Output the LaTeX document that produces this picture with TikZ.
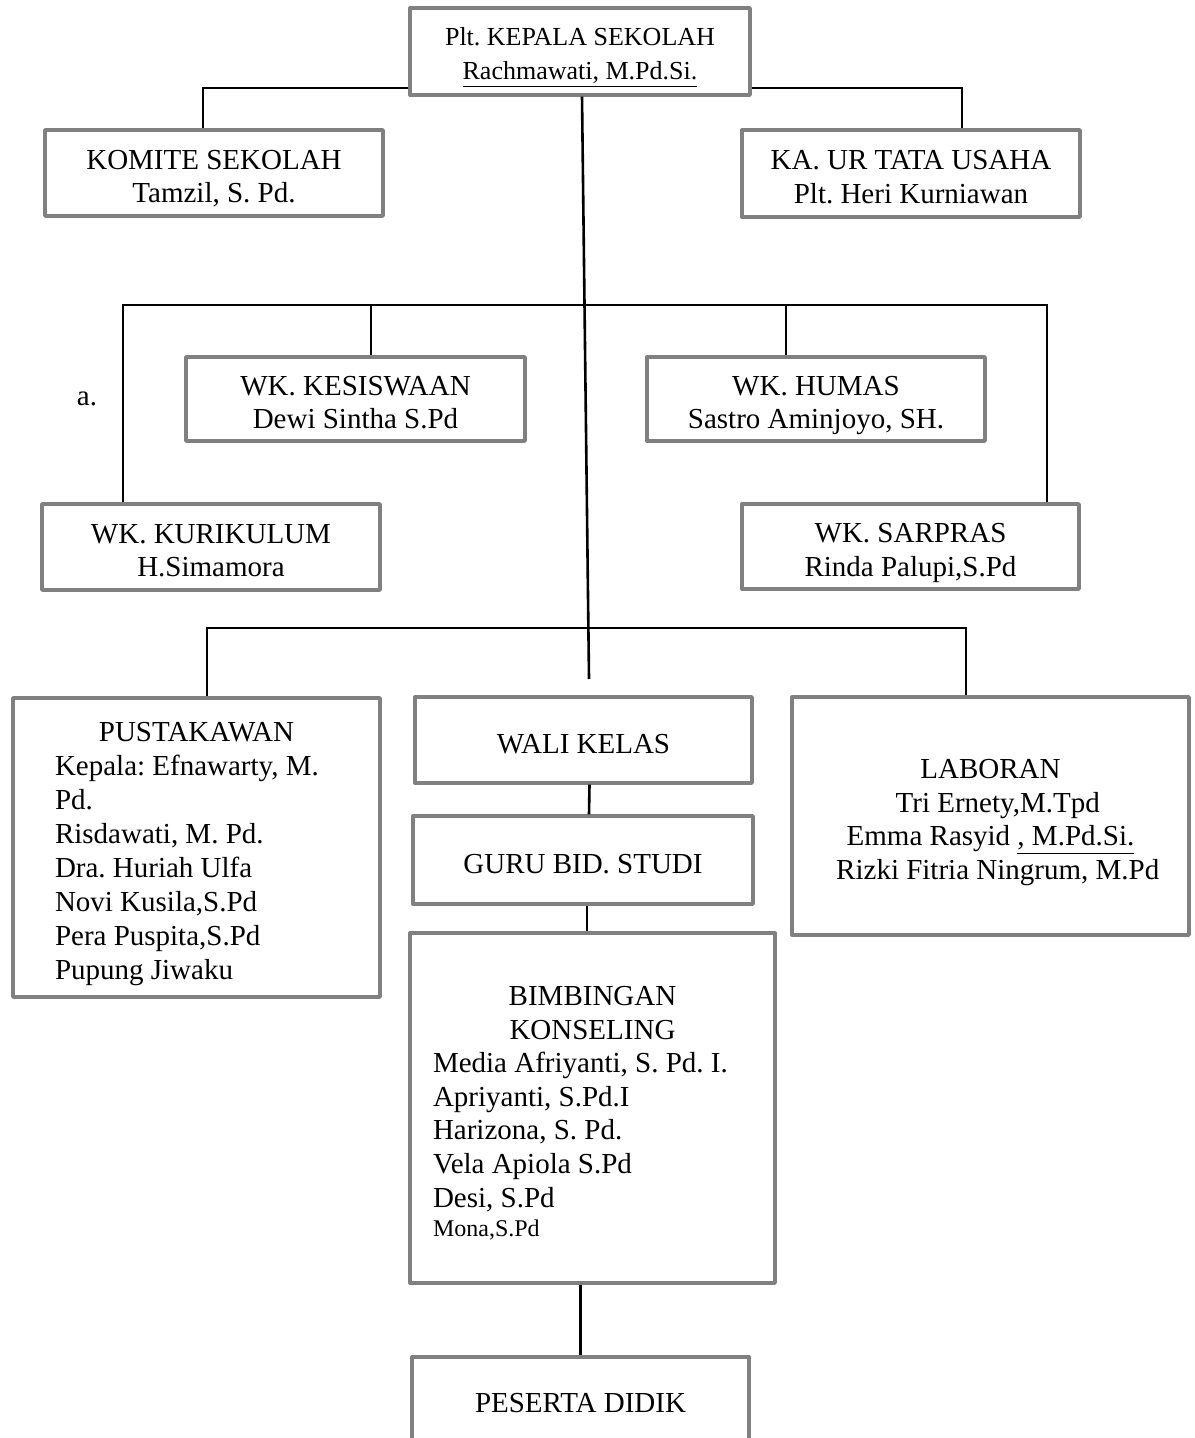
\documentclass[tikz,border=0pt]{standalone}
\usepackage{fontspec}
\setmainfont{Liberation Serif}
\usepackage{xcolor}
\definecolor{boxgray}{RGB}{128,128,128}
\frenchspacing

\begin{document}
\begin{tikzpicture}[x=0.5pt,y=-0.5pt,
box/.style={draw=boxgray,line width=1.7pt,fill=white,align=flush center,text width=150pt,inner sep=0pt,line join=round,font=\fontsize{14.5}{16.8}\selectfont,execute at begin node={\rule{0pt}{#1}},execute at end node={\rule[-3.5pt]{0pt}{3.5pt}}},
box/.default=16.5pt,
wh/.style 2 args={minimum width=#1*0.5pt,minimum height=#2*0.5pt},
link/.style={line width=1.3pt}]
\useasboundingbox (0,0) rectangle (1194,1438);
\node[box=15pt,wh={340}{87},font=\fontsize{13}{17}\selectfont] (kepala) at (580,51.5) {Plt. KEPALA SEKOLAH\\\underline{Rachmawati, M.Pd.Si.}};
\node[box,wh={338}{86}] (komite) at (214,173) {KOMITE SEKOLAH\\Tamzil, S. Pd.};
\node[box,wh={338}{87}] (tu) at (911,173.5) {KA. UR TATA USAHA\\Plt. Heri Kurniawan};
\node[box,wh={339}{84}] (kesiswaan) at (355.5,399) {WK. KESISWAAN\\Dewi Sintha S.Pd};
\node[box,wh={338}{84}] (humas) at (816,399) {WK. HUMAS\\Sastro Aminjoyo, SH.};
\node[box,wh={338}{86}] (kurikulum) at (211,547) {WK. KURIKULUM\\H.Simamora};
\node[box,wh={337}{85}] (sarpras) at (910.5,546.5) {WK. SARPRAS\\Rinda Palupi,S.Pd};
\node[font=\fontsize{14.5}{16.8}\selectfont] (alabel) at (87,398.5) {a.};
\node[box,wh={367}{299},align=flush left,text width=141.5pt,font=\fontsize{14.5}{17}\selectfont] (pustakawan) at (196.5,847.5) {\hfill PUSTAKAWAN\hfill\null\\Kepala: Efnawarty, M.\\Pd.\\Risdawati, M. Pd.\\Dra. Huriah Ulfa\\Novi Kusila,S.Pd\\Pera Puspita,S.Pd\\Pupung Jiwaku};
\node[box,wh={337}{86}] (wali) at (583.5,740) {WALI KELAS};
\node[box,wh={340}{88}] (guru) at (583,860) {GURU BID. STUDI};
\node[box,wh={365}{350},align=flush left,text width=159.5pt] (bk) at (592.5,1108) {\hfill BIMBINGAN\hfill\null\\\hfill KONSELING\hfill\null\\Media Afriyanti, S. Pd. I.\\Apriyanti, S.Pd.I\\Harizona, S. Pd.\\Vela Apiola S.Pd\\Desi, S.Pd\\[-2pt]{\fontsize{12}{14}\selectfont Mona,S.Pd}};
\node[box,wh={397}{238},text width=185pt] (laboran) at (990.5,816) {LABORAN\\\ \ Tri Ernety,M.Tpd\\Emma Rasyid \underline{, M.Pd.Si.}\\\ \ Rizki Fitria Ningrum, M.Pd};
\node[box,wh={337}{84}] (peserta) at (580.5,1399) {PESERTA DIDIK};
\coordinate (kl) at (203,88);
\coordinate (kr) at (962,88);
\coordinate (spine) at (589,679);
\coordinate (b1l) at (123,305);
\coordinate (b1a) at (371,305);
\coordinate (b1b) at (786,305);
\coordinate (b1r) at (1047,305);
\coordinate (b2l) at (207,628);
\coordinate (b2r) at (966,628);
\draw[link] (kepala.west |- kl) -| (komite.north -| kl);
\draw[link] (kepala.east |- kr) -| (tu.north -| kr);
\draw[link] ([xshift=1pt]kepala.south) -- (spine);
\draw[link] (kurikulum.north -| b1l) |- (b1r) -- (sarpras.north -| b1r);
\draw[link] (b1a) -- (kesiswaan.north -| b1a);
\draw[link] (b1b) -- (humas.north -| b1b);
\draw[link] (pustakawan.north -| b2l) |- (b2r) -- (laboran.north -| b2r);
\draw[link] ([xshift=3pt]wali.south) -- ([xshift=3pt]guru.north);
\draw[link] ([xshift=2pt]guru.south) -- ([xshift=2pt]guru.south |- bk.north);
\draw[link] (peserta.north |- bk.south) -- (peserta.north);
\end{tikzpicture}
\end{document}
